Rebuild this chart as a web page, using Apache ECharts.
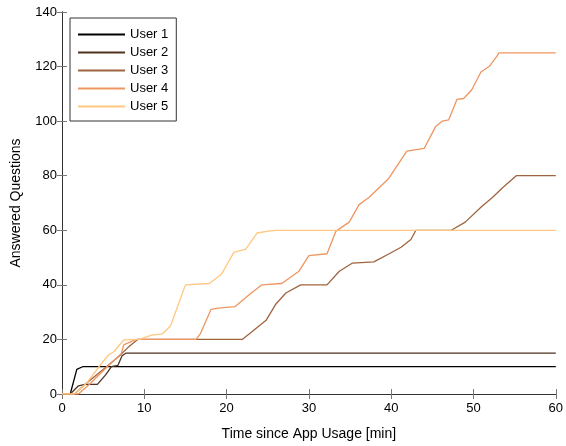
<!DOCTYPE html>
<html>
<head>
<meta charset="utf-8">
<script src="https://cdn.jsdelivr.net/npm/echarts@6/dist/echarts.min.js"></script>
<style>
  html, body { margin: 0; padding: 0; background: #fff; }
  #chart { width: 566px; height: 446px; }
</style>
</head>
<body>
<div id="chart"></div>
<script>
// time [min], answered questions
const user1 = [[0,0],[1,0],[1.8,9],[2.5,10],[60,10]];
const user2 = [[0,0],[1,0],[2,3],[2.8,3.5],[4.3,3.5],[5.3,7],[6,10],[6.8,10.5],[7.3,14],[7.8,15],[60,15]];
const user3 = [[0,0],[1.5,0],[3,4],[5,9],[7,14],[8,17],[9.2,20],[21.9,20],[23,22.6],[24.8,27],[26,33],[27.2,37],[29,40],[32.2,40],[33.7,45],[35.3,48],[37.9,48.4],[39.7,51.3],[41.2,53.8],[42.4,56.6],[43,60],[47.3,60],[49,63],[51,68.7],[52.3,72],[53.5,75.5],[55.2,80],[60,80]];
const user4 = [[0,0],[2,0],[3.5,4],[5.5,10],[7.2,14.8],[7.5,18],[9,20],[16.3,20],[16.8,22],[18.1,31],[19,31.5],[21,32],[23,37],[24.3,40],[26.7,40.5],[28.8,45],[30,50.7],[32.2,51.4],[33.3,59.7],[34.9,63],[36.1,69.4],[37.3,72],[39.7,79],[41.9,89],[44,90],[45.4,98],[46.2,100],[47,100.5],[48,108],[48.8,108.3],[49.8,111.5],[50.9,118],[51.9,120],[52.9,124],[53.1,125],[60,125]];
const user5 = [[0,0],[1.5,0],[3,4],[5,12],[5.7,14.4],[6.3,15.5],[7.5,19.8],[9.4,20],[10.9,21.6],[12.2,22],[13.2,25],[15,40],[17.9,40.5],[19.4,44],[20.9,52],[22.3,53],[23.7,59],[25.1,59.7],[26,60],[60,60]];

const userNames = ['User 1', 'User 2', 'User 3', 'User 4', 'User 5'];
const userData = [user1, user2, user3, user4, user5];
// copper colormap
const userColors = ['#000000', '#50321f', '#9f643f', '#ef955f', '#ffc77f'];

const font = 'Liberation Sans, Arial, sans-serif';

let myChart = echarts.init(document.getElementById('chart'));

const tick = { show: true, inside: true, length: 5, lineStyle: { color: '#777' } };
const line = { show: true, lineStyle: { color: '#333', width: 1 } };

let option = {
    animation: false,
    grid: { left: 62, right: 9, top: 12, bottom: 43 },
    legend: {
        orient: 'vertical',
        left: 70,
        top: 18,
        padding: [10, 8, 8, 8],
        itemGap: 5,
        itemWidth: 47,
        itemHeight: 2,
        icon: 'rect',
        backgroundColor: '#fff',
        borderColor: '#333',
        borderWidth: 1,
        borderRadius: 0,
        textStyle: { fontFamily: font, fontSize: 13, color: '#000' },
        data: userNames
    },
    xAxis: [
        {
            type: 'value', min: 0, max: 60, interval: 10,
            name: 'Time since App Usage [min]',
            nameLocation: 'middle', nameGap: 33,
            nameTextStyle: { fontFamily: font, fontSize: 14, color: '#000' },
            axisLine: line, axisTick: tick, splitLine: { show: false },
            axisLabel: { fontFamily: font, fontSize: 13, color: '#000', margin: 8 }
        },
        {
            type: 'value', min: 0, max: 60, interval: 10, position: 'top',
            axisLine: line, axisTick: tick, splitLine: { show: false },
            axisLabel: { show: false }
        }
    ],
    yAxis: [
        {
            type: 'value', min: 0, max: 140, interval: 20,
            name: 'Answered Questions',
            nameLocation: 'middle', nameGap: 39,
            nameTextStyle: { fontFamily: font, fontSize: 14, color: '#000' },
            axisLine: line, axisTick: tick, splitLine: { show: false },
            axisLabel: { fontFamily: font, fontSize: 13, color: '#000', margin: 5 }
        },
        {
            type: 'value', min: 0, max: 140, interval: 20, position: 'right',
            axisLine: line, axisTick: tick, splitLine: { show: false },
            axisLabel: { show: false }
        }
    ],
    series: userNames.map((name, i) => ({
        name: name,
        type: 'line',
        xAxisIndex: 0,
        yAxisIndex: 0,
        showSymbol: false,
        symbol: 'none',
        color: userColors[i],
        lineStyle: { width: 1.3, color: userColors[i] },
        data: userData[i]
    }))
};
myChart.setOption(option);
</script>
</body>
</html>
